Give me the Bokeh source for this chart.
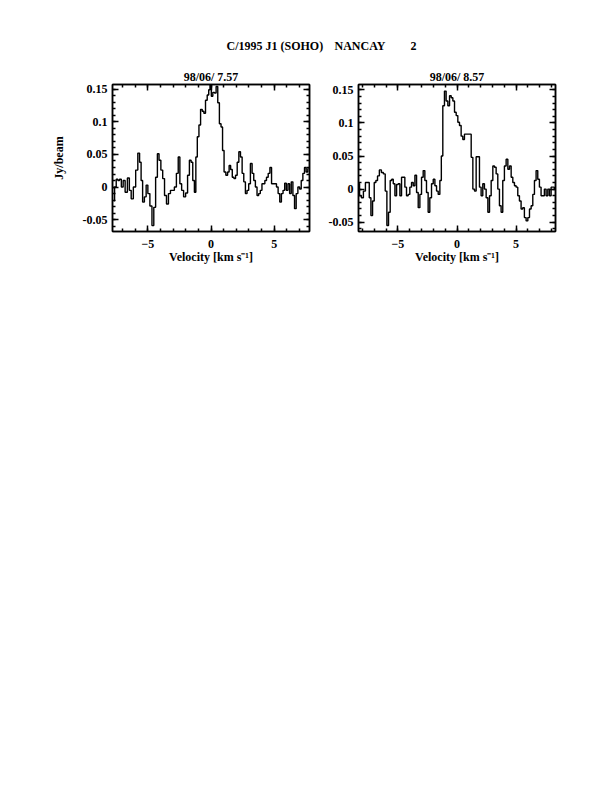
from bokeh.plotting import figure
from bokeh.layouts import column, row
from bokeh.models import Range1d, LinearAxis, FixedTicker, Label, CustomJSTickFormatter
from bokeh.embed import file_html
from bokeh.resources import INLINE

# ---------------- data ----------------
main_title_parts = ["C/1995 J1 (SOHO)", "NANCAY", "2"]
panel_titles = ["98/06/ 7.57", "98/06/ 8.57"]
x_label = "Velocity [km s⁻¹]"
y_label = "Jy/beam"
x_ticks = [-5, 0, 5]
x_minor_ticks = [-8, -7, -6, -5, -4, -3, -2, -1, 0, 1, 2, 3, 4, 5, 6, 7, 8]
y_ticks = [-0.05, 0, 0.05, 0.1, 0.15]
y_tick_labels = ["-0.05", "0", "0.05", "0.1", "0.15"]
y_minor_ticks = [-0.06, -0.05, -0.04, -0.03, -0.02, -0.01, 0.0, 0.01, 0.02, 0.03, 0.04,
                 0.05, 0.06, 0.07, 0.08, 0.09, 0.1, 0.11, 0.12, 0.13, 0.14, 0.15]

vel1 = [-7.70, -7.57, -7.44, -7.31, -7.18, -7.02, -6.89, -6.71, -6.53, -6.40,
        -6.24, -6.06, -5.87, -5.72, -5.59, -5.48, -5.35, -5.20, -5.07, -4.93,
        -4.75, -4.60, -4.46, -4.31, -4.18, -4.05, -3.89, -3.76, -3.60, -3.45,
        -3.29, -3.13, -2.98, -2.82, -2.66, -2.53, -2.40, -2.25, -2.09, -1.93,
        -1.78, -1.64, -1.51, -1.38, -1.25, -1.15, -1.02, -0.89, -0.76, -0.63,
        -0.50, -0.37, -0.23, -0.13, -0.03, 0.08, 0.21, 0.34, 0.47, 0.60,
        0.73, 0.86, 0.97, 1.10, 1.25, 1.38, 1.49, 1.62, 1.75, 1.88,
        2.01, 2.14, 2.27, 2.40, 2.53, 2.66, 2.79, 2.92, 3.05, 3.19,
        3.32, 3.45, 3.58, 3.71, 3.84, 3.97, 4.10, 4.20, 4.33, 4.46,
        4.60, 4.73, 4.86, 4.99, 5.12, 5.25, 5.38, 5.51, 5.64, 5.77,
        5.90, 6.03, 6.16, 6.29, 6.42, 6.55, 6.68, 6.81, 6.95, 7.08,
        7.21, 7.34, 7.47, 7.60, 7.73]
flux1 = [-0.021, 0.000, 0.012, 0.010, 0.012, 0.000, 0.010, -0.008, 0.014, -0.005,
         -0.018, 0.000, 0.026, 0.052, 0.038, 0.010, -0.023, -0.015, 0.003, -0.010,
         -0.029, -0.059, -0.031, 0.015, 0.051, 0.041, 0.026, 0.013, -0.013, -0.026,
         -0.010, -0.005, -0.005, 0.000, 0.021, 0.046, 0.005, -0.005, -0.015, -0.009,
         0.018, 0.041, 0.038, 0.010, -0.008, 0.046, 0.077, 0.095, 0.119, 0.116,
         0.113, 0.133, 0.141, 0.149, 0.158, 0.139, 0.145, 0.144, 0.154, 0.129,
         0.097, 0.092, 0.056, 0.023, 0.018, 0.023, 0.033, 0.027, 0.015, 0.013,
         0.018, 0.038, 0.054, 0.046, 0.021, 0.008, -0.010, -0.005, 0.005, 0.036,
         0.021, 0.010, 0.000, -0.013, -0.010, -0.005, 0.005, 0.005, 0.010, 0.015,
         0.021, 0.030, 0.005, 0.005, 0.005, 0.000, -0.010, -0.023, -0.010, -0.005,
         0.006, -0.005, 0.005, -0.010, 0.008, -0.013, -0.033, -0.010, 0.000, -0.003,
         0.010, 0.021, 0.030, 0.023, 0.028]

vel2 = [-8.31, -8.17, -8.00, -7.83, -7.66, -7.49, -7.35, -7.21, -7.07, -6.93,
        -6.79, -6.65, -6.48, -6.31, -6.14, -6.00, -5.86, -5.72, -5.58, -5.46,
        -5.32, -5.18, -5.04, -4.90, -4.76, -4.62, -4.48, -4.34, -4.20, -4.06,
        -3.92, -3.77, -3.63, -3.49, -3.35, -3.21, -3.07, -2.93, -2.79, -2.65,
        -2.51, -2.37, -2.23, -2.08, -1.94, -1.80, -1.66, -1.52, -1.38, -1.27,
        -1.13, -0.99, -0.85, -0.70, -0.56, -0.42, -0.28, -0.14, 0.00, 0.14,
        0.28, 0.42, 0.56, 0.70, 0.85, 0.99, 1.13, 1.27, 1.41, 1.55,
        1.69, 1.83, 1.97, 2.11, 2.25, 2.39, 2.54, 2.68, 2.82, 2.96,
        3.10, 3.24, 3.38, 3.52, 3.66, 3.80, 3.94, 4.08, 4.23, 4.37,
        4.51, 4.65, 4.79, 4.93, 5.07, 5.21, 5.35, 5.49, 5.63, 5.77,
        5.92, 6.06, 6.20, 6.34, 6.48, 6.62, 6.76, 6.90, 7.04, 7.18,
        7.32, 7.46, 7.61, 7.75, 7.89, 8.03, 8.17, 8.31]
flux2 = [0.008, -0.010, -0.013, -0.003, 0.010, 0.010, -0.013, -0.040, -0.018, 0.010,
         0.013, 0.020, 0.029, 0.025, 0.023, -0.003, -0.055, -0.035, 0.013, 0.015,
         0.008, -0.010, 0.007, 0.008, -0.010, 0.018, 0.018, 0.003, -0.010, -0.008,
         0.003, 0.010, 0.005, 0.021, -0.005, -0.028, -0.008, 0.018, 0.028, 0.013,
         -0.005, -0.035, -0.013, 0.008, 0.015, 0.005, -0.003, -0.008, 0.013, 0.050,
         0.126, 0.148, 0.133, 0.126, 0.141, 0.138, 0.133, 0.116, 0.111, 0.101,
         0.096, 0.080, 0.075, 0.083, 0.083, 0.083, 0.083, 0.048, 0.000, -0.003,
         0.049, 0.049, 0.003, -0.010, 0.008, 0.000, -0.013, -0.035, -0.010, 0.013,
         0.035, 0.033, 0.023, 0.000, -0.025, -0.035, 0.013, 0.035, 0.045, 0.030,
         0.035, 0.018, 0.010, 0.005, 0.003, -0.010, -0.018, -0.030, -0.028, -0.043,
         -0.048, -0.043, -0.030, -0.025, -0.008, 0.013, 0.028, 0.015, 0.003, -0.010,
         -0.010, 0.000, -0.010, 0.000, -0.010, 0.003, 0.003, 0.000]

# ---------------- style ----------------
FONT = "Liberation Serif"
FS = "12px"


def style_axis(ax, labels=True):
    ax.axis_line_color = "black"
    ax.axis_line_width = 1.5
    ax.major_tick_in = 6
    ax.major_tick_out = 0
    ax.minor_tick_in = 3
    ax.minor_tick_out = 0
    ax.major_tick_line_width = 1.5
    ax.minor_tick_line_width = 1.5
    ax.major_label_text_font = FONT
    ax.major_label_text_font_style = "bold"
    ax.major_label_text_font_size = FS
    ax.major_label_text_color = "black"
    ax.axis_label_text_font = FONT
    ax.axis_label_text_font_style = "bold"
    ax.axis_label_text_font_size = FS
    ax.axis_label_text_color = "black"
    if not labels:
        ax.formatter = CustomJSTickFormatter(code="return '';")
        ax.major_label_standoff = 0
        ax.axis_label_standoff = 0


def make_panel(vel, flux, xr, yr, title, border_left, with_ylabel):
    p = figure(frame_width=197, frame_height=147,
               x_range=Range1d(*xr), y_range=Range1d(*yr),
               toolbar_location=None, output_backend="svg",
               min_border_left=border_left, min_border_right=6,
               min_border_top=26, min_border_bottom=36)
    p.title.text = title
    p.title.align = "center"
    p.title.text_font = FONT
    p.title.text_font_style = "bold"
    p.title.text_font_size = FS
    p.title.text_color = "black"
    p.title.standoff = 2
    p.xgrid.visible = False
    p.ygrid.visible = False
    p.outline_line_color = "black"
    p.outline_line_width = 1.5
    p.background_fill_color = "white"
    p.border_fill_color = "white"

    xt = FixedTicker(ticks=x_ticks, minor_ticks=x_minor_ticks)
    yt = FixedTicker(ticks=y_ticks, minor_ticks=y_minor_ticks)
    p.xaxis.ticker = xt
    p.yaxis.ticker = yt
    p.yaxis.major_label_overrides = dict(zip(y_ticks, y_tick_labels))
    for ax in p.xaxis + p.yaxis:
        style_axis(ax)
    p.xaxis.axis_label = x_label
    p.xaxis.major_label_standoff = 8
    p.xaxis.axis_label_standoff = -1
    p.yaxis.major_label_standoff = 5
    if with_ylabel:
        p.yaxis.axis_label = y_label
        p.yaxis.axis_label_standoff = 14

    top = LinearAxis(ticker=xt)
    right = LinearAxis(ticker=yt)
    style_axis(top, labels=False)
    style_axis(right, labels=False)
    p.add_layout(top, "above")
    p.add_layout(right, "right")

    p.step(vel, flux, mode="center", line_color="black", line_width=1.4)
    return p


p1 = make_panel(vel1, flux1, (-7.8, 7.8), (-0.068, 0.157), panel_titles[0], 112, True)
p2 = make_panel(vel2, flux2, (-8.33, 8.33), (-0.064, 0.158), panel_titles[1], 43, False)

# main title strip
t = figure(width=561, height=58, x_range=Range1d(0, 561), y_range=Range1d(0, 58),
           toolbar_location=None, output_backend="svg", min_border=0,
           x_axis_type=None, y_axis_type=None)
t.grid.visible = False
t.outline_line_color = None
for txt, xpos in zip(main_title_parts, [226, 334, 410]):
    t.add_layout(Label(x=xpos, y=13, x_units="screen", y_units="screen", text=txt,
                       text_font=FONT, text_font_style="bold", text_font_size=FS,
                       text_baseline="middle", text_align="left", text_color="black"))

layout = column(t, row(p1, p2))
open("out.html", "w").write(file_html(layout, INLINE))
